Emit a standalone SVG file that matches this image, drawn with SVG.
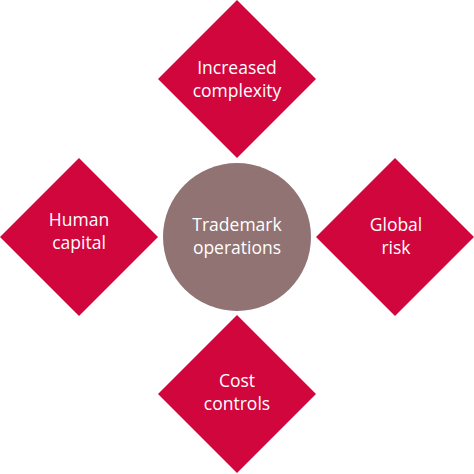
<svg xmlns="http://www.w3.org/2000/svg" width="474" height="474" viewBox="0 0 474 474">
<style>
.d{fill:#d1063d}
.c{fill:#917373}
.t{font-family:"Open Sans","DejaVu Sans",sans-serif;font-size:17.5px;fill:#ffffff;text-anchor:middle}
</style>
<rect width="474" height="474" fill="#ffffff"/>
<g id="connectors"></g>
<g id="top">
<polygon class="d" points="237,0 316,79 237,158 158,79"/>
<text class="t" x="237" y="74">Increased</text>
<text class="t" x="237" y="97">complexity</text>
</g>
<g id="left">
<polygon class="d" points="79,158 158,237 79,316 0,237"/>
<text class="t" x="79" y="226">Human</text>
<text class="t" x="79" y="249">capital</text>
</g>
<g id="right">
<polygon class="d" points="395,158 474,237 395,316 316,237"/>
<text class="t" x="396" y="231">Global</text>
<text class="t" x="396" y="254">risk</text>
</g>
<g id="bottom">
<polygon class="d" points="237,315 316,394 237,473 158,394"/>
<text class="t" x="237" y="387">Cost</text>
<text class="t" x="237" y="410">controls</text>
</g>
<g id="center">
<circle class="c" cx="237" cy="237" r="74"/>
<text class="t" x="237" y="231">Trademark</text>
<text class="t" x="237" y="254">operations</text>
</g>
</svg>
